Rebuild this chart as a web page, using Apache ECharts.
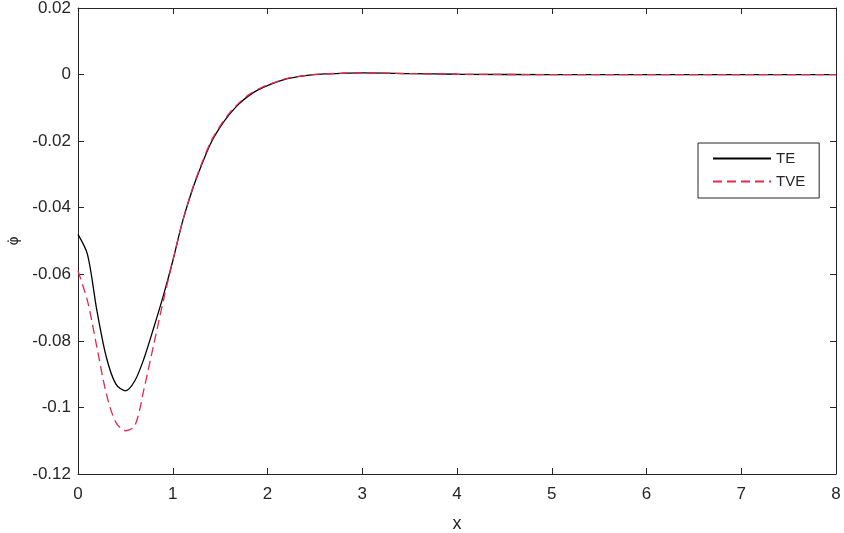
<!DOCTYPE html>
<html>
<head>
<meta charset="utf-8">
<script src="https://cdn.jsdelivr.net/npm/echarts@6/dist/echarts.min.js"></script>
<style>html,body{margin:0;padding:0;background:#fff}#c{width:844px;height:533px}</style>
</head>
<body>
<div id="c"></div>
<script>
const xValues = [0, 0.1, 0.2, 0.3, 0.4, 0.5, 0.6, 0.7, 0.8, 0.9, 1.0, 1.1, 1.2, 1.3, 1.4, 1.5, 1.6, 1.7, 1.8, 1.9, 2.0, 2.2, 2.4, 2.6, 2.8, 3.0, 3.5, 4, 5, 6, 7, 8];
const teValues = [-0.048, -0.054, -0.071, -0.085, -0.093, -0.095, -0.092, -0.085, -0.076, -0.0665, -0.056, -0.0445, -0.0352, -0.0275, -0.0207, -0.0158, -0.0119, -0.0088, -0.0064, -0.0046, -0.0033, -0.0013, -0.0003, 0.0002, 0.0004, 0.0005, 0.0003, 0.0001, 0, 0, 0, 0];
const tveValues = [-0.059, -0.068, -0.082, -0.096, -0.1045, -0.107, -0.1055, -0.094, -0.081, -0.068, -0.056, -0.0445, -0.0349, -0.0271, -0.0203, -0.0154, -0.0115, -0.0085, -0.0061, -0.0044, -0.0031, -0.0012, -0.0003, 0.0002, 0.0004, 0.0005, 0.0003, 0.0001, 0, 0, 0, 0];
const seriesNames = ['TE', 'TVE'];
const xTicks = {min: 0, max: 8, interval: 1};
const yTicks = {min: -0.12, max: 0.02, interval: 0.02};

const axisColor = '#262626';
const chart = echarts.init(document.getElementById('c'));
const fmtY = v => String(parseFloat(v.toFixed(2)));
const baseX = {type: 'value', min: xTicks.min, max: xTicks.max, interval: xTicks.interval,
  axisLine: {onZero: false, lineStyle: {color: axisColor, width: 1}},
  axisTick: {inside: true, length: 6, lineStyle: {color: axisColor}},
  splitLine: {show: false}};
const baseY = {type: 'value', min: yTicks.min, max: yTicks.max, interval: yTicks.interval,
  axisLine: {onZero: false, lineStyle: {color: axisColor, width: 1}},
  axisTick: {inside: true, length: 6, lineStyle: {color: axisColor}},
  splitLine: {show: false}};
chart.setOption({
  animation: false,
  grid: {left: 78, right: 8, top: 8, bottom: 59, containLabel: false, outerBoundsMode: 'none'},
  xAxis: [
    Object.assign({}, baseX, {position: 'bottom', name: 'x', nameLocation: 'middle', nameGap: 41,
      nameTextStyle: {fontSize: 18, color: axisColor, fontFamily: 'Liberation Sans, Arial'},
      axisLabel: {fontSize: 17, color: axisColor, margin: 12, fontFamily: 'Liberation Sans, Arial'}}),
    Object.assign({}, baseX, {position: 'top', axisLabel: {show: false}})
  ],
  yAxis: [
    Object.assign({}, baseY, {position: 'left', name: 'φ̇', nameLocation: 'middle', nameGap: 57, nameRotate: 90,
      nameTextStyle: {fontSize: 14, color: axisColor, fontFamily: 'DejaVu Sans'},
      axisLabel: {fontSize: 17, color: axisColor, margin: 7, formatter: fmtY, fontFamily: 'Liberation Sans, Arial'}}),
    Object.assign({}, baseY, {position: 'right', axisLabel: {show: false}})
  ],
  legend: {
    orient: 'vertical', left: 698, top: 143,
    padding: [8, 14, 9, 14], itemGap: 8, itemWidth: 58, itemHeight: 14,
    backgroundColor: '#fff', borderColor: axisColor, borderWidth: 1,
    itemStyle: {opacity: 0, borderWidth: 0},
    textStyle: {fontSize: 15, color: axisColor, fontFamily: 'Liberation Sans, Arial'},
    data: seriesNames
  },
  series: [
    {name: seriesNames[0], type: 'line', data: xValues.map((x, i) => [x, teValues[i]]),
      showSymbol: false, symbol: 'none', smooth: 0.3,
      lineStyle: {color: '#000', width: 1.3}, itemStyle: {color: '#000'}},
    {name: seriesNames[1], type: 'line', data: xValues.map((x, i) => [x, tveValues[i]]),
      showSymbol: false, symbol: 'none', smooth: 0.3,
      lineStyle: {color: '#e6284e', width: 1.3, type: [9, 5]}, itemStyle: {color: '#e6284e'}}
  ]
});
</script>
</body>
</html>
